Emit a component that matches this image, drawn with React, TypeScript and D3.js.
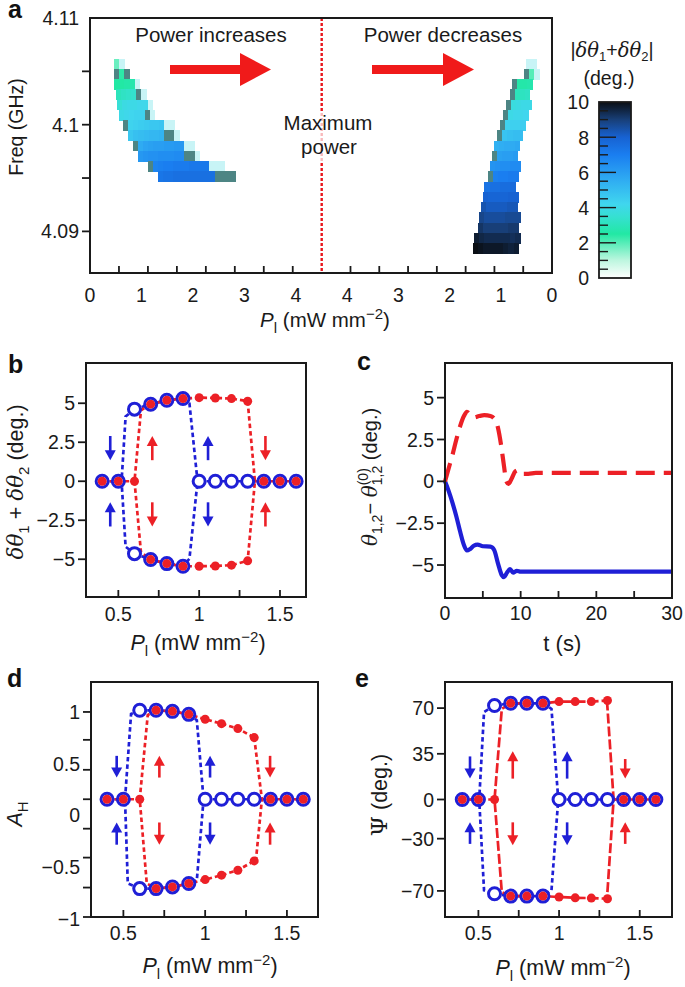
import React, { useRef, useEffect } from 'react';
import * as d3 from 'd3';

const W = 685;
const H = 987;
const FONT = '"Liberation Sans", Arial, Helvetica, sans-serif';
const SERIF = '"DejaVu Serif", "Liberation Serif", serif';
const BLUE = '#1f1fd6';
const RED = '#ec2026';

// ---------- panel a: heat map rows (freq centre of each row, GHz)
const freqRows = [
  4.1057, 4.10474, 4.10378, 4.10282, 4.10186, 4.1009, 4.09994, 4.09898, 4.09802, 4.09706,
  4.0961, 4.09514, 4.09418, 4.09322, 4.09226, 4.0913, 4.09034, 4.08938, 4.08842,
];
const rowStep = 0.00096;
const cellStep = 0.1;
const EDGE = -1;
const PALE = -2;

// power increasing: start = lowest P of the row, values go to higher P
const increasingRows = [
  { start: 0.47, v: [1.8, PALE] },
  { start: 0.47, v: [EDGE, 2.4, EDGE] },
  { start: 0.47, v: [2.5, 2.5, 2.6, 2.7, PALE] },
  { start: 0.5, v: [3.0, 3.2, 3.3, 3.4, EDGE, PALE] },
  { start: 0.52, v: [3.6, 3.9, 4.0, 4.0, 4.1, 4.1, PALE] },
  { start: 0.56, v: [4.0, 4.1, 4.2, 4.3, 4.3, EDGE, PALE] },
  { start: 0.64, v: [EDGE, 4.3, 4.4, 4.5, 4.6, 4.7, 4.7, 4.8, PALE, PALE] },
  { start: 0.74, v: [4.7, 4.9, 5.0, 5.1, 5.2, 5.2, 5.3, EDGE, EDGE, PALE] },
  { start: 0.83, v: [EDGE, 5.6, 5.8, 5.9, 6.0, 6.0, 6.1, 6.1, 6.2, 6.2, PALE, PALE] },
  { start: 0.93, v: [6.2, 6.3, 6.4, 6.4, 6.5, 6.5, 6.5, 6.6, 6.6, EDGE, EDGE, PALE] },
  { start: 1.12, v: [EDGE, 6.8, 6.9, 7.0, 7.0, 7.1, 7.1, 7.1, 7.2, 7.2, 7.2, 7.2, PALE, PALE, PALE] },
  { start: 1.32, v: [7.3, 7.4, 7.4, 7.5, 7.5, 7.5, 7.5, 7.5, 7.5, 7.5, 7.5, EDGE, EDGE, EDGE, EDGE] },
];

// power decreasing: start = highest P of the row, values go to lower P
const decreasingRows = [
  { start: 0.5, v: [PALE, PALE] },
  { start: 0.55, v: [EDGE, 2.0, PALE] },
  { start: 0.78, v: [EDGE, 2.6, 2.6, 2.7] },
  { start: 0.83, v: [EDGE, 3.0, 3.1, 3.2] },
  { start: 0.9, v: [EDGE, 3.8, 3.9, 4.0, 4.0] },
  { start: 0.96, v: [EDGE, 4.0, 4.1, 4.1, 4.2] },
  { start: 1.02, v: [EDGE, 4.3, 4.4, 4.4, 4.5] },
  { start: 1.07, v: [EDGE, 4.8, 4.9, 5.0, 5.0] },
  { start: 1.13, v: [5.4, 5.5, 5.6, 5.6, 5.7] },
  { start: 1.17, v: [EDGE, 5.9, 6.0, 6.0, 6.1] },
  { start: 1.22, v: [6.3, 6.4, 6.5, 6.5, 6.6, 6.6] },
  { start: 1.26, v: [EDGE, 6.9, 7.0, 7.0, 7.1, 7.1] },
  { start: 1.32, v: [7.4, 7.5, 7.5, 7.6, 7.6, 7.7] },
  { start: 1.35, v: [8.0, 7.9, 7.9, 7.9, 7.9, 8.0, 8.0] },
  { start: 1.38, v: [8.4, 8.2, 8.2, 8.2, 8.2, 8.3, 8.3] },
  { start: 1.42, v: [8.8, 8.6, 8.6, 8.6, 8.6, 8.7, 8.7, 8.7] },
  { start: 1.45, v: [9.2, 9.0, 9.0, 9.0, 9.0, 9.0, 9.1, 9.1] },
  { start: 1.52, v: [9.7, 9.5, 9.4, 9.4, 9.4, 9.4, 9.4, 9.3, 9.4] },
  { start: 1.55, v: [10, 9.9, 9.8, 9.8, 9.8, 9.8, 9.7, 9.6, 9.7] },
];

const cmapStops = [0, 1, 2.5, 3.5, 4.2, 5.5, 7, 8, 9, 10];
const cmapColors = ['#ffffff', '#bdf6df', '#22e8a4', '#36e0d2', '#40d6ee', '#30aef2', '#1a7ef0', '#1762d2', '#183f78', '#0a0e14'];
const EDGE_COLOR = '#4d8584';
const PALE_COLOR = '#c8f4f6';

const aYTicks = [4.105, 4.1, 4.095, 4.09];
const aYLabels = [4.11, 4.1, 4.09];
const aXTicks = [0.5625, 1.125, 1.6875, 2.25, 2.8125, 3.375, 3.9375];
const aXLabels = [0, 1, 2, 3, 4];
const cbarTicks = [0.5, 1, 1.5, 2, 2.5, 3, 3.5, 4, 4.5, 5, 5.5, 6, 6.5, 7, 7.5, 8, 8.5, 9, 9.5];
const cbarLabels = [0, 2, 4, 6, 8, 10];

// ---------- panel b
const bBlueZeroP = [0.4, 0.5, 1.0, 1.1, 1.2, 1.3, 1.4, 1.5, 1.6];
const bRedZeroP = [0.4, 0.5, 0.6, 1.4, 1.5, 1.6];
const bBlueBranchP = [0.6, 0.7, 0.8, 0.9];
const bBlueUp = [4.62, 4.94, 5.19, 5.3];
const bBlueDown = [-4.64, -5.02, -5.28, -5.45];
const bRedBranchP = [0.7, 0.8, 0.9, 1.0, 1.1, 1.2, 1.3];
const bRedUp = [4.94, 5.19, 5.3, 5.36, 5.34, 5.3, 5.13];
const bRedDown = [-5.02, -5.28, -5.45, -5.45, -5.43, -5.38, -5.1];
const bBlueLeft = [[0.6, 4.62], [0.545, 4.15], [0.52, 0], [0.545, -4.2], [0.6, -4.64]];
const bBlueRight = [[0.9, 5.3], [0.94, 4.98], [0.985, 0.5], [1.0, 0], [0.985, -0.5], [0.94, -4.96], [0.9, -5.45]];
const bRedLeft = [[0.7, 4.94], [0.64, 4.55], [0.6, 0], [0.64, -4.55], [0.7, -5.02]];
const bRedRight = [[1.3, 5.13], [1.345, 0], [1.3, -5.1]];
const bArrows = [
  { p: 0.45, from: 2.9, to: 1.35, c: 'b' }, { p: 0.45, from: -2.9, to: -1.35, c: 'b' },
  { p: 0.71, from: 1.35, to: 2.9, c: 'r' }, { p: 0.71, from: -1.35, to: -2.9, c: 'r' },
  { p: 1.055, from: 1.35, to: 2.9, c: 'b' }, { p: 1.055, from: -1.35, to: -2.9, c: 'b' },
  { p: 1.41, from: 2.9, to: 1.35, c: 'r' }, { p: 1.41, from: -2.9, to: -1.35, c: 'r' },
];
const bYTicks = [5, 2.5, 0, -2.5, -5];

// ---------- panel c
const cRedT = [0, 0.5, 1, 1.5, 2, 2.5, 2.9, 3.3, 3.8, 4.5, 5.2, 6, 6.5, 7, 7.4, 7.8, 8.1, 8.4, 8.8, 9.3, 9.8, 10.4, 11, 12, 30];
const cRed = [0, 0.8, 1.6, 2.5, 3.3, 3.9, 4.15, 4.0, 3.82, 3.9, 3.95, 3.9, 3.75, 3.2, 2.2, 0.9, 0, -0.15, 0.15, 0.6, 0.68, 0.45, 0.45, 0.5, 0.5];
const cBlueT = [0, 0.5, 1, 1.5, 2, 2.5, 2.9, 3.3, 3.8, 4.3, 5, 6, 6.5, 7, 7.5, 7.8, 8.2, 8.6, 9.0, 9.5, 10, 12, 30];
const cBlue = [0, -0.6, -1.3, -2.1, -3.0, -3.8, -4.13, -4.05, -3.85, -3.78, -3.88, -3.9, -4.1, -4.9, -5.6, -5.72, -5.45, -5.25, -5.45, -5.35, -5.4, -5.4, -5.4];
const cYTicks = [5, 2.5, 0, -2.5, -5];
const cXTicks = [5, 10, 15, 20, 25];
const cXLabels = [0, 10, 20, 30];

// ---------- panel d
const dZero = 0.155;
const dBlueBranchP = [0.6, 0.7, 0.8, 0.9];
const dBlueUp = [1.016, 1.016, 1.006, 0.977];
const dBlueDown = [-0.71, -0.71, -0.694, -0.661];
const dRedBranchP = [0.7, 0.8, 0.9, 1.0, 1.1, 1.2, 1.3];
const dRedUp = [1.016, 1.006, 0.977, 0.929, 0.887, 0.839, 0.752];
const dRedDown = [-0.71, -0.694, -0.661, -0.623, -0.58, -0.532, -0.442];
const dBlueLeft = [[0.6, 1.016], [0.547, 0.98], [0.51, 0.155], [0.527, -0.66], [0.6, -0.71]];
const dBlueRight = [[0.9, 0.977], [0.949, 0.92], [0.989, 0.18], [1.0, 0.155], [0.989, 0.13], [0.949, -0.63], [0.9, -0.661]];
const dRedLeft = [[0.7, 1.016], [0.649, 0.97], [0.6, 0.155], [0.643, -0.66], [0.7, -0.71]];
const dRedRight = [[1.3, 0.752], [1.347, 0.155], [1.31, -0.442]];
const dArrows = [
  { p: 0.459, from: 0.575, to: 0.365, c: 'b' }, { p: 0.459, from: -0.285, to: -0.07, c: 'b' },
  { p: 0.72, from: 0.365, to: 0.575, c: 'r' }, { p: 0.72, from: -0.07, to: -0.285, c: 'r' },
  { p: 1.03, from: 0.365, to: 0.575, c: 'b' }, { p: 1.03, from: -0.07, to: -0.285, c: 'b' },
  { p: 1.397, from: 0.575, to: 0.365, c: 'r' }, { p: 1.397, from: -0.285, to: -0.07, c: 'r' },
];
const dYTicks = [1, 0.73, 0.44, 0.155, -0.13, -0.41, -0.7, -0.985];
const dYLabels = [1, 0.5, 0, -0.5, -1];

// ---------- panel e
const eBlueBranchP = [0.6, 0.7, 0.8, 0.9];
const eBlueUp = [72, 73.7, 73.7, 73.7];
const eBlueDown = [-72.2, -74, -74, -74];
const eRedBranchP = [0.7, 0.8, 0.9, 1.0, 1.1, 1.2, 1.3];
const eRedUp = [73.7, 73.7, 73.7, 75, 75, 75, 75.8];
const eRedDown = [-74, -74, -74, -74.7, -75.3, -75.5, -76];
const eBlueLeft = [[0.6, 72], [0.535, 67], [0.505, 0], [0.535, -69.6], [0.6, -72.2]];
const eBlueRight = [[0.9, 73.7], [0.953, 69.4], [0.995, 0], [0.953, -69.6], [0.9, -74]];
const eRedLeft = [[0.7, 73.7], [0.645, 69.4], [0.6, 0], [0.645, -70.9], [0.7, -74]];
const eRedRight = [[1.297, 75.8], [1.338, 0], [1.297, -76]];
const eArrows = [
  { p: 0.448, from: 33, to: 16, c: 'b' }, { p: 0.448, from: -34, to: -17.5, c: 'b' },
  { p: 0.713, from: 16, to: 37, c: 'r' }, { p: 0.713, from: -17.5, to: -35, c: 'r' },
  { p: 1.05, from: 16, to: 37, c: 'b' }, { p: 1.05, from: -17.5, to: -35, c: 'b' },
  { p: 1.41, from: 31, to: 16, c: 'r' }, { p: 1.41, from: -34, to: -17.5, c: 'r' },
];
const eYTicks = [70, 35, 0, -30, -70];

const hystXTicks = [0.5, 0.75, 1, 1.25, 1.5];
const hystXLabels = [0.5, 1, 1.5];

const fmt = (v: number) => (v < 0 ? '\u2212' + Math.abs(v) : String(v));

const TICK_FS = 19.5;
const TITLE_FS = 21.5;
const SUB_FS = 15;

type Box = { left: number; right: number; top: number; bottom: number };

function frame(g: any, b: Box) {
  g.append('rect')
    .attr('x', b.left).attr('y', b.top)
    .attr('width', b.right - b.left).attr('height', b.bottom - b.top)
    .attr('fill', 'none').attr('stroke', '#1a1a1a').attr('stroke-width', 2);
}

function yTickMarks(g: any, b: Box, y: any, ticks: number[]) {
  ticks.forEach(v => {
    g.append('line').attr('x1', b.left - 8).attr('x2', b.left)
      .attr('y1', y(v)).attr('y2', y(v)).attr('stroke', '#1a1a1a').attr('stroke-width', 1.8);
  });
}

function yTickLabels(g: any, b: Box, y: any, labels: number[]) {
  labels.forEach(v => {
    g.append('text').attr('x', b.left - 11).attr('y', y(v)).attr('dy', '0.36em')
      .attr('text-anchor', 'end').attr('font-size', TICK_FS).attr('font-family', FONT).attr('fill', '#1a1a1a')
      .text(fmt(v));
  });
}

function xTickMarks(g: any, b: Box, x: any, ticks: number[]) {
  ticks.forEach(v => {
    g.append('line').attr('x1', x(v)).attr('x2', x(v))
      .attr('y1', b.bottom).attr('y2', b.bottom - 7).attr('stroke', '#1a1a1a').attr('stroke-width', 1.8);
  });
}

function xTickLabels(g: any, x: any, yBase: number, labels: number[]) {
  labels.forEach(v => {
    g.append('text').attr('x', x(v)).attr('y', yBase).attr('text-anchor', 'middle')
      .attr('font-size', TICK_FS).attr('font-family', FONT).attr('fill', '#1a1a1a').text(fmt(v));
  });
}

function plLabel(g: any, x: number, y: number, gap = ' ', fs = TITLE_FS) {
  const t = g.append('text').attr('x', x).attr('y', y).attr('text-anchor', 'middle')
    .attr('font-size', fs).attr('font-family', FONT).attr('fill', '#1a1a1a');
  t.append('tspan').text('P').attr('font-style', 'italic');
  t.append('tspan').text('l').attr('font-size', SUB_FS).attr('dy', 6);
  t.append('tspan').text(gap + '(mW mm').attr('dy', -6);
  t.append('tspan').text('\u22122').attr('font-size', SUB_FS).attr('dy', -8);
  t.append('tspan').text(')').attr('dy', 8);
}

function panelLetter(g: any, x: number, y: number, s: string) {
  g.append('text').attr('x', x).attr('y', y).attr('font-size', 25).attr('font-weight', 'bold')
    .attr('font-family', FONT).attr('fill', '#111').text(s);
}

function arrow(g: any, x: number, yTail: number, yHead: number, color: string) {
  const dir = Math.sign(yHead - yTail);
  const headLen = 10;
  const headW = 5.5;
  const base = yHead - dir * headLen;
  g.append('line').attr('x1', x).attr('x2', x).attr('y1', yTail).attr('y2', base + dir)
    .attr('stroke', color).attr('stroke-width', 2.6);
  g.append('path').attr('d', `M${x - headW},${base} L${x + headW},${base} L${x},${yHead} Z`).attr('fill', color);
}

function hysteresis(g: any, x: any, y: any, cfg: any) {
  const line = d3.line<number[]>().x(d => x(d[0])).y(d => y(d[1]));
  const pairs = (ps: number[], vs: number[]) => ps.map((p, i) => [p, vs[i]]);
  const zero = cfg.zero;
  const blueDash = '4.5,3';

  const blueLines = [
    [[0.4, zero], [0.5, zero]],
    pairs(cfg.blueP, cfg.blueUp),
    pairs(cfg.blueP, cfg.blueDown),
    cfg.blueLeft,
    cfg.blueRight,
    [[1.0, zero], [1.6, zero]],
  ];
  const redLines = [
    [[0.4, zero], [0.6, zero]],
    pairs(cfg.redP, cfg.redUp),
    pairs(cfg.redP, cfg.redDown),
    cfg.redLeft,
    cfg.redRight,
    [[cfg.redRight[1][0], zero], [1.6, zero]],
  ];
  blueLines.forEach(pts => {
    g.append('path').attr('d', line(pts)).attr('fill', 'none').attr('stroke', BLUE)
      .attr('stroke-width', 2.7).attr('stroke-dasharray', blueDash);
  });
  redLines.forEach(pts => {
    g.append('path').attr('d', line(pts)).attr('fill', 'none').attr('stroke', RED)
      .attr('stroke-width', 2.7).attr('stroke-dasharray', cfg.redDash);
  });

  const blueDots: number[][] = [
    ...cfg.blueZeroP.map((p: number) => [p, zero]),
    ...pairs(cfg.blueP, cfg.blueUp),
    ...pairs(cfg.blueP, cfg.blueDown),
  ];
  blueDots.forEach(d => {
    g.append('circle').attr('cx', x(d[0])).attr('cy', y(d[1])).attr('r', 6)
      .attr('fill', '#fff').attr('stroke', BLUE).attr('stroke-width', 3);
  });
  const redDots: number[][] = [
    ...cfg.redZeroP.map((p: number) => [p, zero]),
    ...pairs(cfg.redP, cfg.redUp),
    ...pairs(cfg.redP, cfg.redDown),
  ];
  redDots.forEach(d => {
    g.append('circle').attr('cx', x(d[0])).attr('cy', y(d[1])).attr('r', 4.5).attr('fill', RED);
  });

  cfg.arrows.forEach((a: any) => {
    arrow(g, x(a.p), y(a.from), y(a.to), a.c === 'b' ? BLUE : RED);
  });
}

const App: React.FC = () => {
  const svgRef = useRef<SVGSVGElement>(null);

  useEffect(() => {
    if (!svgRef.current) return;
    const svg = d3.select(svgRef.current);
    svg.selectAll('*').remove();
    const g = svg.append('g');

    // ================= panel a =================
    const aBox: Box = { left: 90, right: 552, top: 18, bottom: 273 };
    const xL = d3.scaleLinear().domain([0, 4.5]).range([aBox.left, 321.7]);
    const xR = d3.scaleLinear().domain([4.5, 0]).range([321.7, aBox.right]);
    const yA = d3.scaleLinear().domain([4.0861, 4.11]).range([aBox.bottom, aBox.top]);
    const cmap = d3.scaleLinear<string>().domain(cmapStops).range(cmapColors)
      .interpolate(d3.interpolateRgb).clamp(true);
    const cellColor = (v: number) => (v === EDGE ? EDGE_COLOR : v === PALE ? PALE_COLOR : cmap(v));

    const heat = g.append('g').attr('shape-rendering', 'crispEdges');
    increasingRows.forEach((row, i) => {
      const f = freqRows[i];
      const y0 = yA(f + rowStep / 2);
      const y1 = yA(f - rowStep / 2);
      row.v.forEach((v, j) => {
        const p0 = row.start + j * cellStep;
        const p1 = p0 + cellStep;
        heat.append('rect').attr('x', xL(p0)).attr('y', y0)
          .attr('width', xL(p1) - xL(p0) + 0.4).attr('height', y1 - y0 + 0.4).attr('fill', cellColor(v));
      });
    });
    decreasingRows.forEach((row, i) => {
      const f = freqRows[i];
      const y0 = yA(f + rowStep / 2);
      const y1 = yA(f - rowStep / 2);
      row.v.forEach((v, j) => {
        const p0 = row.start - j * cellStep;
        const p1 = p0 - cellStep;
        heat.append('rect').attr('x', xR(p0)).attr('y', y0)
          .attr('width', xR(p1) - xR(p0) + 0.4).attr('height', y1 - y0 + 0.4).attr('fill', cellColor(v));
      });
    });

    // max power dotted line
    g.append('line').attr('x1', xL(4.5)).attr('x2', xL(4.5)).attr('y1', aBox.top).attr('y2', aBox.bottom)
      .attr('stroke', '#e8151b').attr('stroke-width', 2.4).attr('stroke-dasharray', '3,2');
    g.append('rect').attr('x', xL(4.5) - 5).attr('y', 111).attr('width', 10).attr('height', 50)
      .attr('fill', '#fff').attr('opacity', 0.7);

    frame(g, aBox);
    yTickMarks(g, aBox, yA, aYTicks);
    yTickLabels(g, aBox, yA, aYLabels);
    aXTicks.forEach(v => {
      [xL(v), xR(v)].forEach(px => {
        g.append('line').attr('x1', px).attr('x2', px).attr('y1', aBox.bottom).attr('y2', aBox.bottom - 7)
          .attr('stroke', '#1a1a1a').attr('stroke-width', 1.8);
      });
    });
    aXLabels.forEach(v => {
      g.append('text').attr('x', xL(v)).attr('y', 302).attr('text-anchor', 'middle')
        .attr('font-size', TICK_FS).attr('font-family', FONT).attr('fill', '#1a1a1a').text(v);
      g.append('text').attr('x', xR(v)).attr('y', 302).attr('text-anchor', 'middle')
        .attr('font-size', TICK_FS).attr('font-family', FONT).attr('fill', '#1a1a1a').text(v);
    });
    plLabel(g, 325, 327, '  ', 20.5);
    g.append('text').attr('transform', 'translate(23,127) rotate(-90)').attr('text-anchor', 'middle')
      .attr('font-size', 19.5).attr('font-family', FONT).attr('fill', '#1a1a1a').text('Freq (GHz)');

    // annotations
    const annot = (xx: number, yy: number, s: string, fs = 20.5) =>
      g.append('text').attr('x', xx).attr('y', yy).attr('text-anchor', 'middle')
        .attr('font-size', fs).attr('font-family', FONT).attr('fill', '#1a1a1a').text(s);
    annot(211, 42, 'Power increases');
    annot(443, 42, 'Power decreases');
    annot(328, 130, 'Maximum');
    annot(329, 154, 'power');
    const bigArrow = (x0: number, x1: number, cy: number) => {
      g.append('path')
        .attr('d', `M${x0},${cy - 4.5} L${x1 - 31},${cy - 4.5} L${x1 - 31},${cy - 16.5} L${x1},${cy} L${x1 - 31},${cy + 16.5} L${x1 - 31},${cy + 4.5} L${x0},${cy + 4.5} Z`)
        .attr('fill', '#f01a1a');
    };
    bigArrow(170, 271, 69.5);
    bigArrow(372, 474, 69.5);

    // colour bar
    const cb = { left: 599, right: 631, top: 102, bottom: 278 };
    const yCb = d3.scaleLinear().domain([0, 10]).range([cb.bottom, cb.top]);
    const grad = svg.append('defs').append('linearGradient').attr('id', 'cbarGrad')
      .attr('x1', 0).attr('y1', 1).attr('x2', 0).attr('y2', 0);
    cmapStops.forEach((s, i) => {
      grad.append('stop').attr('offset', s / 10).attr('stop-color', cmapColors[i]);
    });
    g.append('rect').attr('x', cb.left).attr('y', cb.top).attr('width', cb.right - cb.left)
      .attr('height', cb.bottom - cb.top).attr('fill', 'url(#cbarGrad)').attr('stroke', '#1a1a1a').attr('stroke-width', 1.8);
    cbarTicks.forEach(v => {
      const major = v % 2 === 0;
      g.append('line').attr('x1', cb.left).attr('x2', cb.left + (major ? 17 : 9))
        .attr('y1', yCb(v)).attr('y2', yCb(v)).attr('stroke', '#1a1a1a').attr('stroke-width', 1.4);
    });
    cbarLabels.forEach(v => {
      g.append('text').attr('x', 589).attr('y', yCb(v)).attr('dy', '0.38em').attr('text-anchor', 'end')
        .attr('font-size', TICK_FS).attr('font-family', FONT).attr('fill', '#1a1a1a').text(v);
    });
    const cbt = g.append('text').attr('x', 612).attr('y', 57).attr('text-anchor', 'middle')
      .attr('font-size', 19.5).attr('font-family', FONT).attr('fill', '#1a1a1a');
    cbt.append('tspan').text('|');
    cbt.append('tspan').text('\u03b4\u03b8').attr('font-family', SERIF).attr('font-style', 'italic');
    cbt.append('tspan').text('1').attr('font-size', 13).attr('dy', 4);
    cbt.append('tspan').text('+').attr('dy', -4);
    cbt.append('tspan').text('\u03b4\u03b8').attr('font-family', SERIF).attr('font-style', 'italic');
    cbt.append('tspan').text('2').attr('font-size', 13).attr('dy', 4);
    cbt.append('tspan').text('|').attr('dy', -4);
    annot(609, 85, '(deg.)', 19.5);

    panelLetter(g, 8, 18, 'a');

    // ================= panel b =================
    const bBox: Box = { left: 86, right: 306, top: 363, bottom: 597 };
    const xb = d3.scaleLinear().domain([0.3, 1.661]).range([bBox.left, bBox.right]);
    const yb = d3.scaleLinear().domain([-7.42, 7.58]).range([bBox.bottom, bBox.top]);
    hysteresis(g, xb, yb, {
      zero: 0, redDash: '4.5,3',
      blueZeroP: bBlueZeroP, redZeroP: bRedZeroP,
      blueP: bBlueBranchP, blueUp: bBlueUp, blueDown: bBlueDown,
      redP: bRedBranchP, redUp: bRedUp, redDown: bRedDown,
      blueLeft: bBlueLeft, blueRight: bBlueRight, redLeft: bRedLeft, redRight: bRedRight,
      arrows: bArrows,
    });
    frame(g, bBox);
    yTickMarks(g, bBox, yb, bYTicks);
    yTickLabels(g, bBox, yb, bYTicks);
    xTickMarks(g, bBox, xb, hystXTicks);
    xTickLabels(g, xb, 621, hystXLabels);
    plLabel(g, 198, 650);
    const byl = g.append('text').attr('transform', 'translate(23,482) rotate(-90)').attr('text-anchor', 'middle')
      .attr('font-size', TITLE_FS).attr('font-family', FONT).attr('fill', '#1a1a1a');
    byl.append('tspan').text('\u03b4\u03b8').attr('font-family', SERIF).attr('font-style', 'italic');
    byl.append('tspan').text('1').attr('font-size', SUB_FS).attr('dy', 6);
    byl.append('tspan').text(' + ').attr('dy', -6);
    byl.append('tspan').text('\u03b4\u03b8').attr('font-family', SERIF).attr('font-style', 'italic');
    byl.append('tspan').text('2').attr('font-size', SUB_FS).attr('dy', 6);
    byl.append('tspan').text(' (deg.)').attr('dy', -6);
    panelLetter(g, 8, 373, 'b');

    // ================= panel c =================
    const cBox: Box = { left: 445, right: 672, top: 363, bottom: 598 };
    const xc = d3.scaleLinear().domain([0, 30]).range([cBox.left, cBox.right]);
    const yc = d3.scaleLinear().domain([-6.97, 7.07]).range([cBox.bottom, cBox.top]);
    const cg = g.append('g');
    cg.append('path')
      .attr('d', d3.line<number>().x((d, i) => xc(cBlueT[i])).y(d => yc(d)).curve(d3.curveMonotoneX)(cBlue))
      .attr('fill', 'none').attr('stroke', BLUE).attr('stroke-width', 4.2);
    cg.append('path')
      .attr('d', d3.line<number>().x((d, i) => xc(cRedT[i])).y(d => yc(d)).curve(d3.curveMonotoneX)(cRed))
      .attr('fill', 'none').attr('stroke', RED).attr('stroke-width', 4.2).attr('stroke-dasharray', '19,9');
    frame(g, cBox);
    yTickMarks(g, cBox, yc, cYTicks);
    yTickLabels(g, cBox, yc, cYTicks);
    xTickMarks(g, cBox, xc, cXTicks);
    xTickLabels(g, xc, 620, cXLabels);
    g.append('text').attr('x', xc(15.5)).attr('y', 651).attr('text-anchor', 'middle')
      .attr('font-size', 22).attr('font-family', FONT).attr('fill', '#1a1a1a').text('t (s)');
    const cyl = g.append('text').attr('transform', 'translate(377,477) rotate(-90)').attr('text-anchor', 'middle')
      .attr('font-size', 20).attr('font-family', FONT).attr('fill', '#1a1a1a');
    cyl.append('tspan').text('\u03b8').attr('font-family', SERIF).attr('font-style', 'italic');
    cyl.append('tspan').text('1,2').attr('font-size', 14).attr('dy', 5);
    cyl.append('tspan').text('\u2212 ').attr('dy', -5);
    cyl.append('tspan').text('\u03b8').attr('font-family', SERIF).attr('font-style', 'italic');
    cyl.append('tspan').text('(0)').attr('font-size', 14).attr('dy', -9);
    cyl.append('tspan').text('1,2').attr('font-size', 14).attr('dx', -17).attr('dy', 14);
    cyl.append('tspan').text(' (deg.)').attr('dy', -5);
    panelLetter(g, 357, 370, 'c');

    // ================= panel d =================
    const dBox: Box = { left: 91, right: 318, top: 682, bottom: 917 };
    const xd = d3.scaleLinear().domain([0.302, 1.69]).range([dBox.left, dBox.right]);
    const yd = d3.scaleLinear().domain([-0.985, 1.29]).range([dBox.bottom, dBox.top]);
    hysteresis(g, xd, yd, {
      zero: dZero, redDash: '4.5,3',
      blueZeroP: bBlueZeroP, redZeroP: bRedZeroP,
      blueP: dBlueBranchP, blueUp: dBlueUp, blueDown: dBlueDown,
      redP: dRedBranchP, redUp: dRedUp, redDown: dRedDown,
      blueLeft: dBlueLeft, blueRight: dBlueRight, redLeft: dRedLeft, redRight: dRedRight,
      arrows: dArrows,
    });
    frame(g, dBox);
    yTickMarks(g, dBox, yd, dYTicks);
    yTickLabels(g, dBox, yd, dYLabels);
    xTickMarks(g, dBox, xd, hystXTicks);
    xTickLabels(g, xd, 940, hystXLabels);
    plLabel(g, 210, 973);
    const dyl = g.append('text').attr('transform', 'translate(22,814) rotate(-90)').attr('text-anchor', 'middle')
      .attr('font-size', TITLE_FS).attr('font-family', FONT).attr('fill', '#1a1a1a');
    dyl.append('tspan').text('A').attr('font-style', 'italic');
    dyl.append('tspan').text('H').attr('font-size', SUB_FS).attr('dy', 6);
    panelLetter(g, 7, 687, 'd');

    // ================= panel e =================
    const eBox: Box = { left: 445, right: 672, top: 682, bottom: 917 };
    const xe = d3.scaleLinear().domain([0.293, 1.70]).range([eBox.left, eBox.right]);
    const ye = d3.scaleLinear().domain([-90, 90]).range([eBox.bottom, eBox.top]);
    hysteresis(g, xe, ye, {
      zero: 0, redDash: '10,3',
      blueZeroP: bBlueZeroP, redZeroP: bRedZeroP,
      blueP: eBlueBranchP, blueUp: eBlueUp, blueDown: eBlueDown,
      redP: eRedBranchP, redUp: eRedUp, redDown: eRedDown,
      blueLeft: eBlueLeft, blueRight: eBlueRight, redLeft: eRedLeft, redRight: eRedRight,
      arrows: eArrows,
    });
    frame(g, eBox);
    yTickMarks(g, eBox, ye, eYTicks);
    yTickLabels(g, eBox, ye, eYTicks);
    xTickMarks(g, eBox, xe, hystXTicks);
    xTickLabels(g, xe, 940, hystXLabels);
    plLabel(g, 563, 975);
    const eyl = g.append('text').attr('transform', 'translate(387,795) rotate(-90)').attr('text-anchor', 'middle')
      .attr('font-size', TITLE_FS).attr('font-family', FONT).attr('fill', '#1a1a1a');
    eyl.append('tspan').text('\u03a8').attr('font-family', SERIF).attr('font-size', 23);
    eyl.append('tspan').text(' (deg.)');
    panelLetter(g, 355, 687, 'e');
  }, []);

  return (
    <svg
      ref={svgRef}
      width={W}
      height={H}
      style={{ position: 'absolute', left: 0, top: 0, background: '#fff' }}
    />
  );
};

export default App;
